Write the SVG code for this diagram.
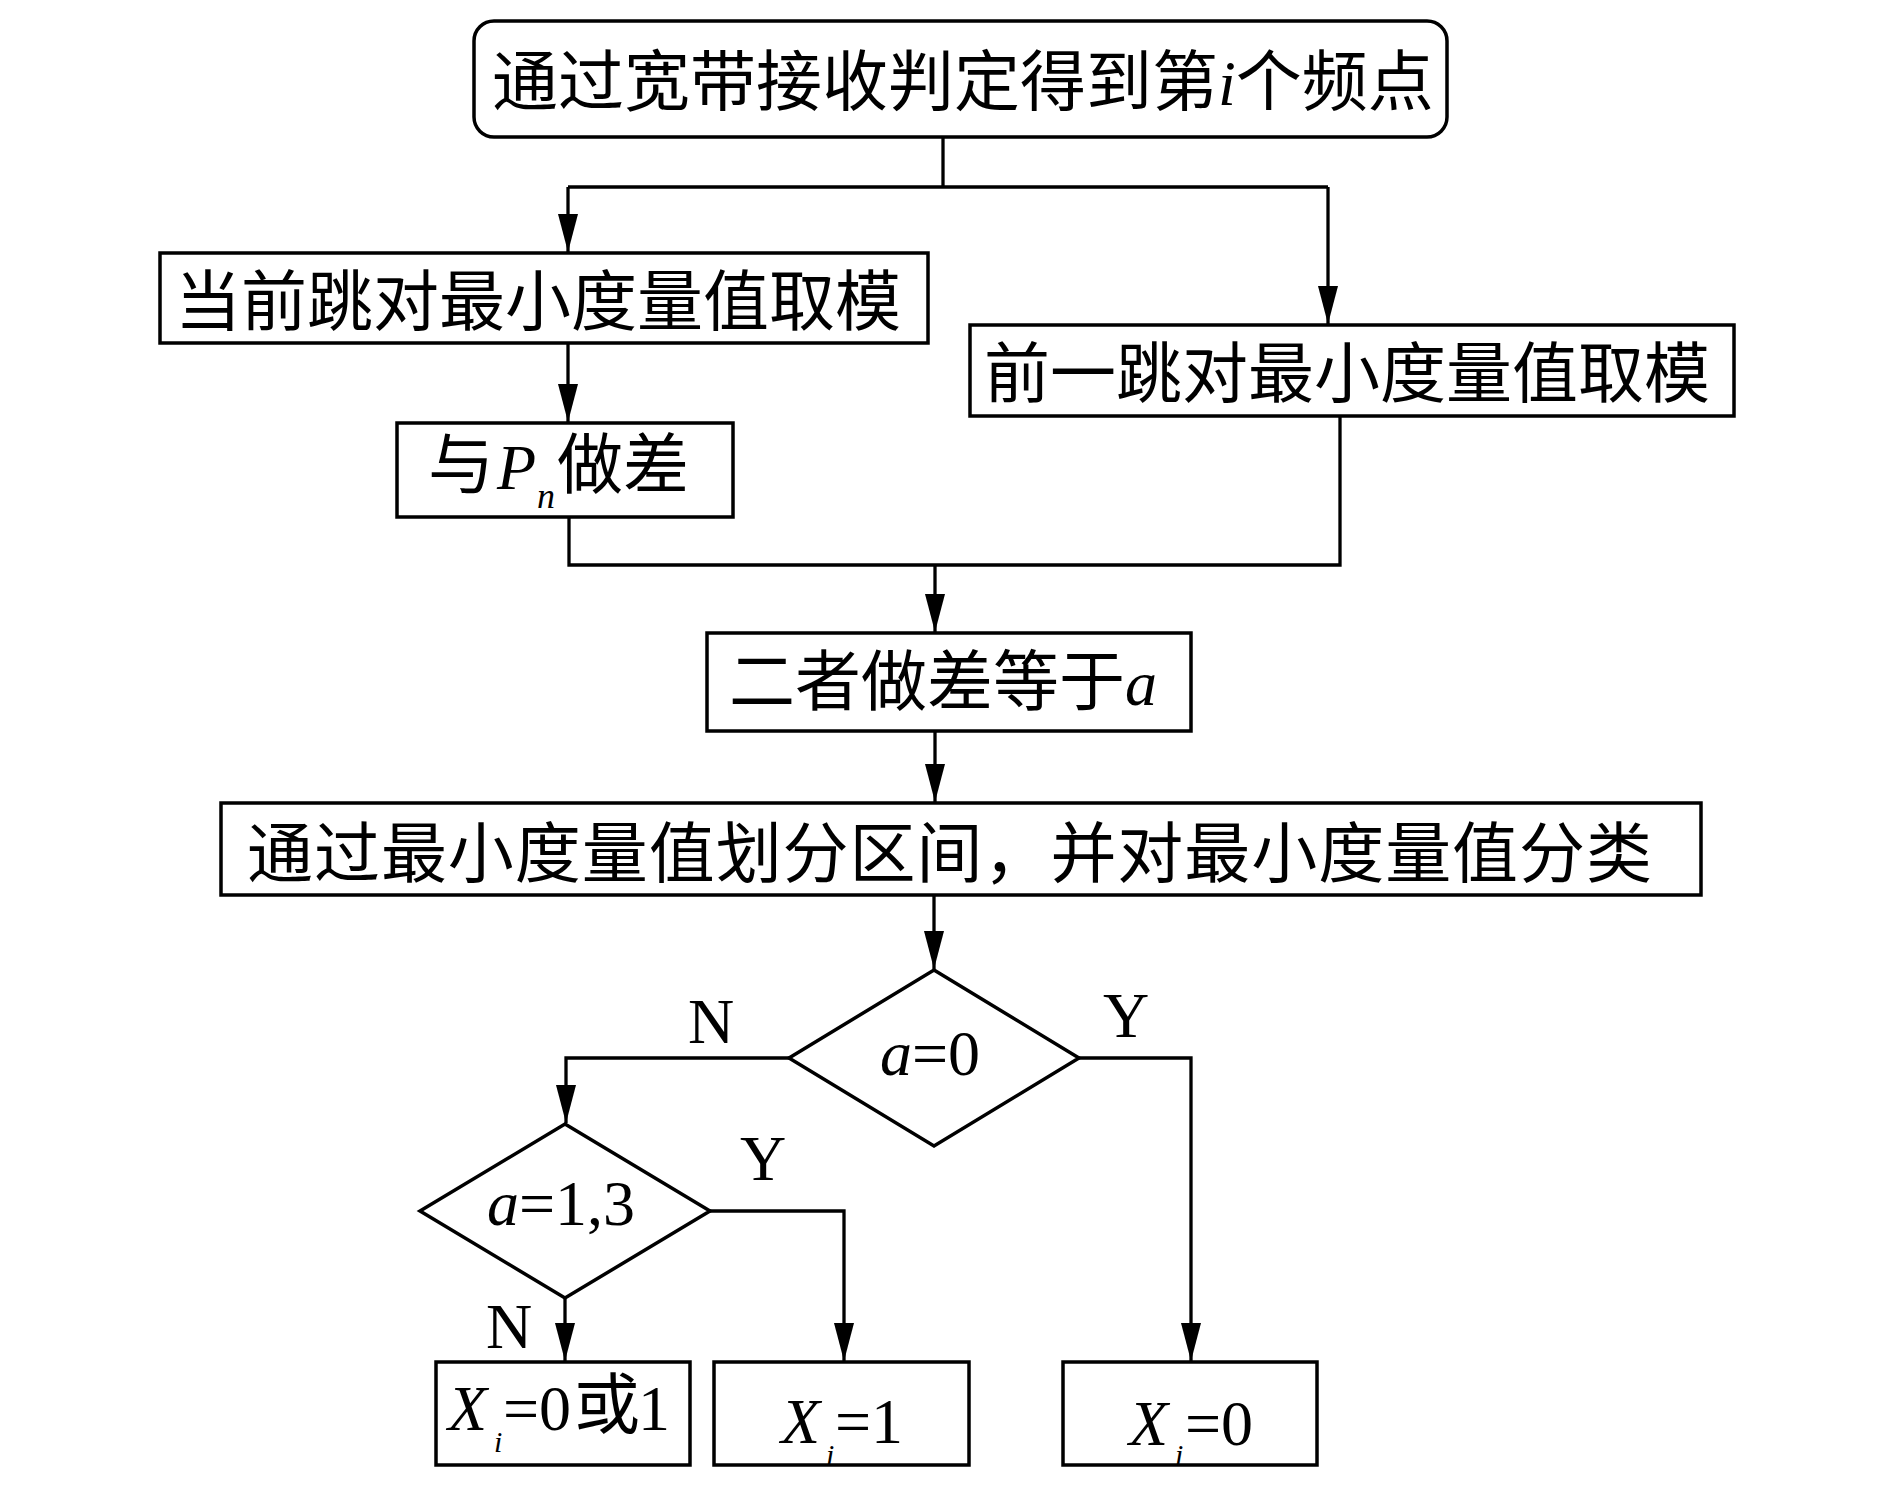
<svg xmlns="http://www.w3.org/2000/svg" width="1890" height="1488" viewBox="0 0 1890 1488">
<style>
.bx{fill:#fff;stroke:#000;stroke-width:3.5}
.ln{fill:none;stroke:#000;stroke-width:3.3}
.cj{font-family:"Liberation Serif","Noto Sans CJK SC",serif;font-size:66px;fill:#000}
.lt{font-family:"Liberation Serif","Times New Roman",serif;font-size:64px;fill:#000}
.it{font-style:italic}
.sb{font-family:"Liberation Serif",serif;font-style:italic;fill:#000}
</style>
<defs>
<marker id="arr" markerUnits="userSpaceOnUse" markerWidth="40" markerHeight="22" viewBox="0 0 40 22" refX="38" refY="11" orient="auto">
<path d="M0,1 L38,11 L0,21 z" fill="#000"/>
</marker>
</defs>
<rect width="1890" height="1488" fill="#fff"/>
<g id="connectors">
<path class="ln" d="M943,137 V187"/>
<path class="ln" d="M568,187 H1328"/>
<path class="ln" d="M568,187 V252" marker-end="url(#arr)"/>
<path class="ln" d="M1328,187 V324" marker-end="url(#arr)"/>
<path class="ln" d="M568,343 V422" marker-end="url(#arr)"/>
<path class="ln" d="M569,517 V565 H1340 V416"/>
<path class="ln" d="M935,565 V632" marker-end="url(#arr)"/>
<path class="ln" d="M935,731 V802" marker-end="url(#arr)"/>
<path class="ln" d="M934,895 V969" marker-end="url(#arr)"/>
<path class="ln" d="M789,1058 H566 V1123" marker-end="url(#arr)"/>
<path class="ln" d="M1079,1058 H1191 V1361" marker-end="url(#arr)"/>
<path class="ln" d="M710,1211 H844 V1361" marker-end="url(#arr)"/>
<path class="ln" d="M565,1298 V1361" marker-end="url(#arr)"/>
</g>
<g id="n-start">
<rect class="bx" x="474" y="21" width="973" height="116" rx="20" ry="20"/>
<text class="cj" x="492" y="105">通过宽带接收判定得到第<tspan class="lt it">i</tspan>个频点</text>
</g>
<g id="n-cur">
<rect class="bx" x="160" y="253" width="768" height="90"/>
<text class="cj" x="175" y="325">当前跳对最小度量值取模</text>
</g>
<g id="n-prev">
<rect class="bx" x="970" y="325" width="764" height="91"/>
<text class="cj" x="984" y="397">前一跳对最小度量值取模</text>
</g>
<g id="n-pn">
<rect class="bx" x="397" y="423" width="336" height="94"/>
<text class="cj" x="428" y="488">与</text>
<text class="lt it" x="497" y="489">P</text>
<text class="sb" x="537" y="508" font-size="36">n</text>
<text class="cj" x="557" y="488">做差</text>
</g>
<g id="n-diff">
<rect class="bx" x="707" y="633" width="484" height="98"/>
<text class="cj" x="729" y="705">二者做差等于<tspan class="lt it">a</tspan></text>
</g>
<g id="n-class">
<rect class="bx" x="221" y="803" width="1480" height="92"/>
<text class="cj" x="247" y="877" textLength="1405" lengthAdjust="spacing">通过最小度量值划分区间，并对最小度量值分类</text>
</g>
<g id="n-d1">
<polygon class="bx" points="934,970 1079,1058 934,1146 789,1058"/>
<text class="lt" x="880" y="1075"><tspan class="it">a</tspan>=0</text>
</g>
<g id="n-d2">
<polygon class="bx" points="565,1124 710,1211 565,1298 420,1211"/>
<text class="lt" x="487" y="1225"><tspan class="it">a</tspan>=1,3</text>
</g>
<g id="n-x01">
<rect class="bx" x="436" y="1362" width="254" height="103"/>
<text class="lt it" x="448" y="1430">X</text>
<text class="sb" x="494" y="1452" font-size="30">i</text>
<text class="lt" x="503" y="1430">=0</text>
<text class="cj" x="574" y="1428" font-size="64">或</text>
<text class="lt" x="638" y="1430">1</text>
</g>
<g id="n-x1">
<rect class="bx" x="714" y="1362" width="255" height="103"/>
<text class="lt it" x="781" y="1443">X</text>
<text class="sb" x="826" y="1465" font-size="30">i</text>
<text class="lt" x="835" y="1443">=1</text>
</g>
<g id="n-x0">
<rect class="bx" x="1063" y="1362" width="254" height="103"/>
<text class="lt it" x="1129" y="1445">X</text>
<text class="sb" x="1175" y="1465" font-size="30">i</text>
<text class="lt" x="1185" y="1445">=0</text>
</g>
<g id="labels">
<text class="lt" x="688" y="1043">N</text>
<text class="lt" x="1103" y="1037">Y</text>
<text class="lt" x="740" y="1180">Y</text>
<text class="lt" x="486" y="1348">N</text>
</g>
</svg>
